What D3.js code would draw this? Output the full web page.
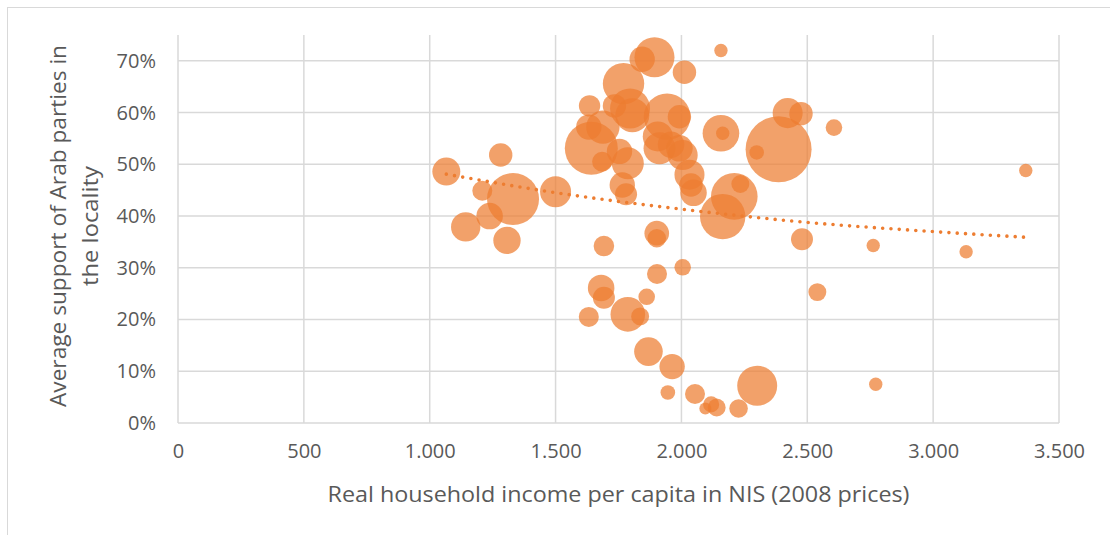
<!DOCTYPE html>
<html>
<head>
<meta charset="utf-8">
<script src="https://cdn.jsdelivr.net/npm/d3@7/dist/d3.min.js"></script>
<style>
  html, body { margin: 0; padding: 0; background: #fff; }
  svg { display: block; }
  text { font-family: "Open Sans", "Noto Sans", sans-serif; fill: #595959; }
</style>
</head>
<body>
<svg id="chart" width="1110" height="535"></svg>
<script>
// Real household income per capita (NIS, 2008 prices)
const income = [1066,1282,1209,1331,1238,1143,1307,1500,1692,1642,1685,1635,1632,1688,1770,1734,1796,1805,1844,1893,2012,2157,1943,1992,1906,1913,1959,1992,2005,2032,2038,2048,1754,1787,1765,1780,2157,2164,2210,2234,2164,2386,2299,2422,2475,2606,3368,2479,2762,3131,2540,2772,2301,2227,2140,2118,2095,1902,1902,1903,2005,1681,1692,1862,1632,1787,1836,1869,1963,1946,2054];
// Average support of Arab parties in the locality (share)
const support = [0.486,0.518,0.449,0.433,0.400,0.379,0.353,0.447,0.342,0.531,0.505,0.613,0.572,0.572,0.656,0.613,0.608,0.595,0.703,0.707,0.678,0.720,0.592,0.592,0.554,0.531,0.538,0.531,0.518,0.480,0.460,0.445,0.525,0.502,0.460,0.442,0.560,0.560,0.438,0.462,0.399,0.529,0.523,0.599,0.598,0.571,0.488,0.355,0.343,0.331,0.253,0.075,0.072,0.028,0.030,0.036,0.028,0.367,0.357,0.288,0.301,0.261,0.242,0.244,0.205,0.210,0.206,0.138,0.109,0.059,0.056];
// Bubble size (relative locality size)
const bubbleSize = [18.0,12.6,9.2,62.1,16.2,19.8,17.2,22.1,9.7,64.5,9.2,10.5,14.8,25.6,39.3,12.6,36.7,26.5,14.8,36.7,12.6,4.1,49.9,12.6,20.7,23.5,16.2,16.2,20.7,20.7,12.6,16.2,14.8,23.5,14.8,11.1,30.8,4.1,49.9,7.4,47.3,100,4.9,20.7,12.6,6.3,4.1,11.1,4.1,4.1,7.4,4.1,36.7,7.9,7.4,5.9,3.3,13.9,7.9,9.2,6.3,16.2,11.1,6.3,9.2,27.5,7.4,18.8,14.8,4.9,9.2];
// Dotted trendline
const trendX = [1066,1450,2058,2495,3000,3368];
const trendY = [0.481,0.449,0.410,0.388,0.370,0.359];
// Ticks
const xTicks = [0,500,1000,1500,2000,2500,3000,3500];
const xTickLabels = ["0","500","1.000","1.500","2.000","2.500","3.000","3.500"];
const yTicks = [0,0.1,0.2,0.3,0.4,0.5,0.6,0.7];
const yTickLabels = ["0%","10%","20%","30%","40%","50%","60%","70%"];
const xTitle = "Real household income per capita in NIS (2008 prices)";
const yTitleLines = ["Average support of Arab parties in","the locality"];

const svg = d3.select("#chart");
const L = 178, R = 1059, T = 35, B = 423;
const x = d3.scaleLinear().domain([0,3500]).range([L,R]);
const y = d3.scaleLinear().domain([0,0.75]).range([B,T]);
const r = d3.scaleSqrt().domain([0,100]).range([0,33]);

// outer chart border
svg.append("rect").attr("x",7.5).attr("y",7.5).attr("width",1200).attr("height",700)
  .attr("fill","none").attr("stroke","#D9D9D9").attr("stroke-width",1);

const grid = "#D9D9D9";
svg.append("g").selectAll("line").data(yTicks).join("line")
  .attr("x1",L).attr("x2",R).attr("y1",d=>y(d)).attr("y2",d=>y(d))
  .attr("stroke",grid).attr("stroke-width",1.5);
svg.append("g").selectAll("line").data(xTicks).join("line")
  .attr("x1",d=>x(d)).attr("x2",d=>x(d)).attr("y1",T).attr("y2",B)
  .attr("stroke",grid).attr("stroke-width",1.5);

const xAxis = d3.axisBottom(x).tickValues(xTicks).tickFormat((d,i)=>xTickLabels[i]).tickSize(0).tickPadding(0);
const gx = svg.append("g").attr("transform",`translate(0,${B+21})`).call(xAxis);
gx.select(".domain").remove();
gx.selectAll("text").style("font-size","20px").attr("fill","#595959")
  .style("font-family","'Open Sans', sans-serif").attr("dy","0.71em");

const yAxis = d3.axisLeft(y).tickValues(yTicks).tickFormat((d,i)=>yTickLabels[i]).tickSize(0).tickPadding(0);
const gy = svg.append("g").attr("transform",`translate(${156},0)`).call(yAxis);
gy.select(".domain").remove();
gy.selectAll("text").style("font-size","20px").attr("fill","#595959")
  .style("font-family","'Open Sans', sans-serif");

const data = income.map((v,i)=>({x:v, y:support[i], s:bubbleSize[i]}));
svg.append("g").selectAll("circle").data(data).join("circle")
  .attr("cx",d=>x(d.x)).attr("cy",d=>y(d.y)).attr("r",d=>r(d.s))
  .attr("fill","#ED7D31").attr("fill-opacity",0.72);

const trend = trendX.map((v,i)=>[v,trendY[i]]);
svg.append("path").datum(trend)
  .attr("d", d3.line().x(d=>x(d[0])).y(d=>y(d[1])).curve(d3.curveMonotoneX))
  .attr("fill","none").attr("stroke","#ED7D31").attr("stroke-width",3.6)
  .attr("stroke-linecap","round").attr("stroke-dasharray","0,8.3");

svg.append("text").attr("x",(L+R)/2).attr("y",502).attr("text-anchor","middle")
  .style("font-size","22px").attr("textLength",582).attr("lengthAdjust","spacingAndGlyphs").text(xTitle);

const yc = 226;
const yt = svg.append("g");
yTitleLines.forEach((t,i)=>{
  yt.append("text").attr("transform",`translate(${66+i*32},${yc}) rotate(-90)`)
    .attr("text-anchor","middle").style("font-size","22px")
    .attr("textLength", i===0?362:120).attr("lengthAdjust","spacingAndGlyphs").text(t);
});
</script>
</body>
</html>
